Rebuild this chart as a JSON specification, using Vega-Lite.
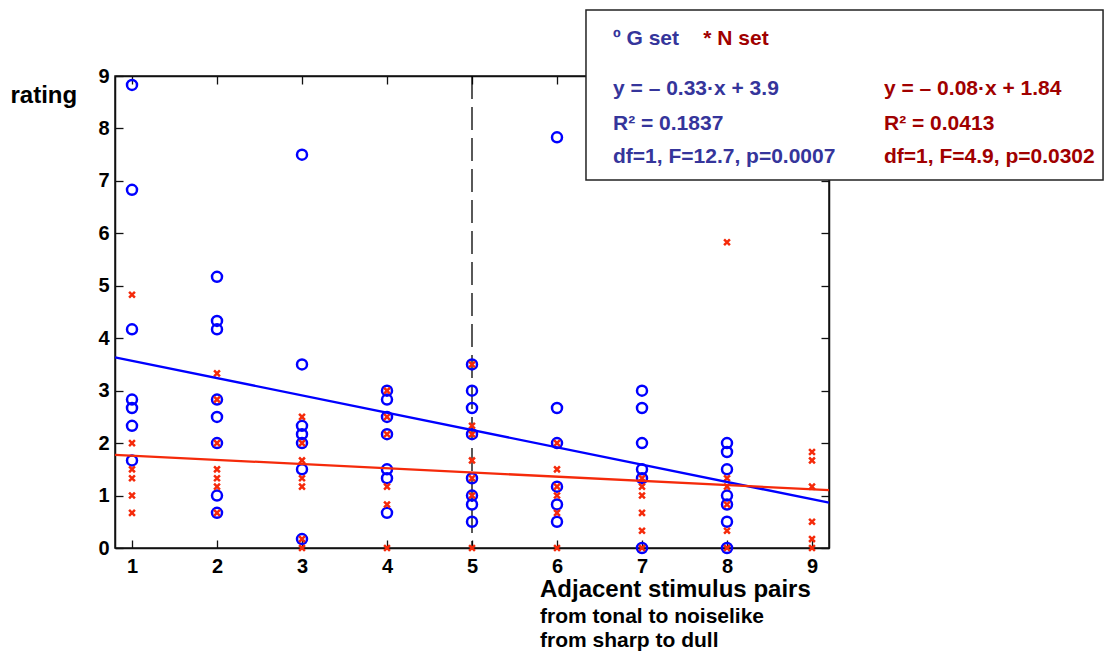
{
  "$schema": "https://vega.github.io/schema/vega-lite/v6.json",
  "width": 714,
  "height": 472,
  "autosize": {"type": "none"},
  "padding": {"left": 115, "top": 76, "right": 276, "bottom": 106},
  "background": "white",
  "config": {
    "view": {"stroke": "#111111", "strokeWidth": 1.5},
    "font": "Liberation Sans",
    "axis": {
      "labelFont": "Liberation Sans",
      "labelFontWeight": "bold",
      "labelFontSize": 20,
      "labelColor": "#000000",
      "domainColor": "#111111",
      "domainWidth": 1.5,
      "tickColor": "#111111",
      "tickWidth": 1.3,
      "grid": false
    }
  },
  "title": {
    "text": "Adjacent stimulus pairs",
    "subtitle": ["from tonal to noiselike", "from sharp to dull"],
    "orient": "bottom",
    "anchor": "start",
    "frame": "group",
    "dx": 425,
    "offset": 2,
    "font": "Liberation Sans",
    "fontSize": 24,
    "fontWeight": "bold",
    "color": "#000000",
    "subtitleFont": "Liberation Sans",
    "subtitleFontSize": 21,
    "subtitleFontWeight": "bold",
    "subtitleColor": "#000000",
    "subtitlePadding": 4,
    "subtitleLineHeight": 24
  },
  "datasets": {
    "pts": [
      {"x": 1, "y": 8.83, "set": "G"}, {"x": 1, "y": 6.83, "set": "G"}, {"x": 1, "y": 4.17, "set": "G"}, {"x": 1, "y": 2.83, "set": "G"}, {"x": 1, "y": 2.67, "set": "G"}, {"x": 1, "y": 2.33, "set": "G"}, {"x": 1, "y": 1.67, "set": "G"},
      {"x": 2, "y": 5.17, "set": "G"}, {"x": 2, "y": 4.33, "set": "G"}, {"x": 2, "y": 4.17, "set": "G"}, {"x": 2, "y": 2.83, "set": "G"}, {"x": 2, "y": 2.5, "set": "G"}, {"x": 2, "y": 2.0, "set": "G"}, {"x": 2, "y": 1.0, "set": "G"}, {"x": 2, "y": 0.67, "set": "G"},
      {"x": 3, "y": 7.5, "set": "G"}, {"x": 3, "y": 3.5, "set": "G"}, {"x": 3, "y": 2.33, "set": "G"}, {"x": 3, "y": 2.17, "set": "G"}, {"x": 3, "y": 2.0, "set": "G"}, {"x": 3, "y": 1.5, "set": "G"}, {"x": 3, "y": 0.17, "set": "G"},
      {"x": 4, "y": 3.0, "set": "G"}, {"x": 4, "y": 2.83, "set": "G"}, {"x": 4, "y": 2.5, "set": "G"}, {"x": 4, "y": 2.17, "set": "G"}, {"x": 4, "y": 1.5, "set": "G"}, {"x": 4, "y": 1.33, "set": "G"}, {"x": 4, "y": 0.67, "set": "G"},
      {"x": 5, "y": 3.5, "set": "G"}, {"x": 5, "y": 3.0, "set": "G"}, {"x": 5, "y": 2.67, "set": "G"}, {"x": 5, "y": 2.17, "set": "G"}, {"x": 5, "y": 1.33, "set": "G"}, {"x": 5, "y": 1.0, "set": "G"}, {"x": 5, "y": 0.83, "set": "G"}, {"x": 5, "y": 0.5, "set": "G"},
      {"x": 6, "y": 7.83, "set": "G"}, {"x": 6, "y": 2.67, "set": "G"}, {"x": 6, "y": 2.0, "set": "G"}, {"x": 6, "y": 1.17, "set": "G"}, {"x": 6, "y": 0.83, "set": "G"}, {"x": 6, "y": 0.5, "set": "G"},
      {"x": 7, "y": 3.0, "set": "G"}, {"x": 7, "y": 2.67, "set": "G"}, {"x": 7, "y": 2.0, "set": "G"}, {"x": 7, "y": 1.5, "set": "G"}, {"x": 7, "y": 1.33, "set": "G"}, {"x": 7, "y": 0.0, "set": "G"},
      {"x": 8, "y": 2.0, "set": "G"}, {"x": 8, "y": 1.83, "set": "G"}, {"x": 8, "y": 1.5, "set": "G"}, {"x": 8, "y": 1.0, "set": "G"}, {"x": 8, "y": 0.83, "set": "G"}, {"x": 8, "y": 0.5, "set": "G"}, {"x": 8, "y": 0.0, "set": "G"},
      {"x": 1, "y": 4.83, "set": "N"}, {"x": 1, "y": 2.0, "set": "N"}, {"x": 1, "y": 1.5, "set": "N"}, {"x": 1, "y": 1.33, "set": "N"}, {"x": 1, "y": 1.0, "set": "N"}, {"x": 1, "y": 0.67, "set": "N"},
      {"x": 2, "y": 3.33, "set": "N"}, {"x": 2, "y": 2.83, "set": "N"}, {"x": 2, "y": 2.0, "set": "N"}, {"x": 2, "y": 1.5, "set": "N"}, {"x": 2, "y": 1.33, "set": "N"}, {"x": 2, "y": 1.17, "set": "N"}, {"x": 2, "y": 0.67, "set": "N"},
      {"x": 3, "y": 2.5, "set": "N"}, {"x": 3, "y": 2.0, "set": "N"}, {"x": 3, "y": 1.67, "set": "N"}, {"x": 3, "y": 1.33, "set": "N"}, {"x": 3, "y": 1.17, "set": "N"}, {"x": 3, "y": 0.17, "set": "N"}, {"x": 3, "y": 0.0, "set": "N"},
      {"x": 4, "y": 3.0, "set": "N"}, {"x": 4, "y": 2.5, "set": "N"}, {"x": 4, "y": 2.17, "set": "N"}, {"x": 4, "y": 1.17, "set": "N"}, {"x": 4, "y": 0.83, "set": "N"}, {"x": 4, "y": 0.0, "set": "N"},
      {"x": 5, "y": 3.5, "set": "N"}, {"x": 5, "y": 2.33, "set": "N"}, {"x": 5, "y": 2.17, "set": "N"}, {"x": 5, "y": 1.67, "set": "N"}, {"x": 5, "y": 1.33, "set": "N"}, {"x": 5, "y": 1.0, "set": "N"}, {"x": 5, "y": 0.0, "set": "N"},
      {"x": 6, "y": 2.0, "set": "N"}, {"x": 6, "y": 1.5, "set": "N"}, {"x": 6, "y": 1.17, "set": "N"}, {"x": 6, "y": 1.0, "set": "N"}, {"x": 6, "y": 0.67, "set": "N"}, {"x": 6, "y": 0.0, "set": "N"},
      {"x": 7, "y": 1.33, "set": "N"}, {"x": 7, "y": 1.17, "set": "N"}, {"x": 7, "y": 1.0, "set": "N"}, {"x": 7, "y": 0.67, "set": "N"}, {"x": 7, "y": 0.33, "set": "N"}, {"x": 7, "y": 0.0, "set": "N"},
      {"x": 8, "y": 5.83, "set": "N"}, {"x": 8, "y": 1.33, "set": "N"}, {"x": 8, "y": 1.17, "set": "N"}, {"x": 8, "y": 0.83, "set": "N"}, {"x": 8, "y": 0.33, "set": "N"}, {"x": 8, "y": 0.0, "set": "N"},
      {"x": 9, "y": 1.83, "set": "N"}, {"x": 9, "y": 1.67, "set": "N"}, {"x": 9, "y": 1.17, "set": "N"}, {"x": 9, "y": 0.5, "set": "N"}, {"x": 9, "y": 0.17, "set": "N"}, {"x": 9, "y": 0.0, "set": "N"}
    ],
    "fits": [
      {"x": 0.8, "y": 3.636, "set": "G"}, {"x": 9.2, "y": 0.864, "set": "G"},
      {"x": 0.8, "y": 1.776, "set": "N"}, {"x": 9.2, "y": 1.104, "set": "N"}
    ],
    "split": [{"x": 5}],
    "box": [{"x": 6.341, "x2": 12.424, "y": 10.259, "y2": 7.018}],
    "notes": [
      {"tx": 6.659, "ty": 9.592, "label": "º G set", "set": "G"},
      {"tx": 6.659, "ty": 8.638, "label": "y = – 0.33·x + 3.9", "set": "G"},
      {"tx": 6.659, "ty": 7.971, "label": "R² = 0.1837", "set": "G"},
      {"tx": 6.659, "ty": 7.342, "label": "df=1, F=12.7, p=0.0007", "set": "G"},
      {"tx": 7.721, "ty": 9.592, "label": "* N set", "set": "N"},
      {"tx": 9.847, "ty": 8.638, "label": "y = – 0.08·x + 1.84", "set": "N"},
      {"tx": 9.847, "ty": 7.971, "label": "R² = 0.0413", "set": "N"},
      {"tx": 9.847, "ty": 7.342, "label": "df=1, F=4.9, p=0.0302", "set": "N"}
    ]
  },
  "layer": [
    {
      "data": {"name": "split"},
      "mark": {"type": "rule", "color": "#000000", "strokeWidth": 1.3, "strokeDash": [23, 8]},
      "encoding": {
        "x": {"field": "x", "type": "quantitative", "scale": {"domain": [0.8, 9.2], "nice": false, "zero": false}, "axis": null}
      }
    },
    {
      "data": {"name": "pts"},
      "mark": {"type": "point", "filled": false, "strokeWidth": 2.5, "opacity": 1},
      "encoding": {
        "x": {"field": "x", "type": "quantitative", "scale": {"domain": [0.8, 9.2], "nice": false, "zero": false},
              "axis": {"orient": "bottom", "values": [1, 2, 3, 4, 5, 6, 7, 8, 9], "tickSize": -8, "labelPadding": 16, "title": null}},
        "y": {"field": "y", "type": "quantitative", "scale": {"domain": [0, 9], "nice": false},
              "axis": {"orient": "left", "values": [0, 1, 2, 3, 4, 5, 6, 7, 8, 9], "tickSize": -8, "labelPadding": 14,
                       "title": "rating", "titleAngle": 0, "titleAlign": "left", "titleBaseline": "alphabetic",
                       "titleX": -105, "titleY": 26, "titleFont": "Liberation Sans", "titleFontSize": 24, "titleFontWeight": "bold", "titleColor": "#000000"}},
        "color": {"field": "set", "type": "nominal", "scale": {"domain": ["G", "N"], "range": ["#0000ff", "#f52a0a"]}, "legend": null},
        "shape": {"field": "set", "type": "nominal", "scale": {"domain": ["G", "N"], "range": ["circle", "M-1,-1L1,1M-1,1L1,-1"]}, "legend": null},
        "size": {"field": "set", "type": "nominal", "scale": {"domain": ["G", "N"], "range": [100, 34]}, "legend": null}
      }
    },
    {
      "data": {"name": "fits"},
      "mark": {"type": "line", "strokeWidth": 2.3},
      "encoding": {
        "x": {"field": "x", "type": "quantitative", "scale": {"domain": [0.8, 9.2], "nice": false, "zero": false},
              "axis": {"orient": "top", "values": [1, 2, 3, 4, 5, 6, 7, 8, 9], "tickSize": -8, "labels": false, "title": null}},
        "y": {"field": "y", "type": "quantitative", "scale": {"domain": [0, 9], "nice": false},
              "axis": {"orient": "right", "values": [0, 1, 2, 3, 4, 5, 6, 7, 8, 9], "tickSize": -8, "labels": false, "title": null}},
        "color": {"field": "set", "type": "nominal", "legend": null}
      }
    },
    {
      "data": {"name": "box"},
      "mark": {"type": "rect", "fill": "#ffffff", "stroke": "#222222", "strokeWidth": 1.5},
      "encoding": {
        "x": {"field": "x", "type": "quantitative", "axis": null},
        "x2": {"field": "x2"},
        "y": {"field": "y", "type": "quantitative", "axis": null},
        "y2": {"field": "y2"}
      }
    },
    {
      "data": {"name": "notes"},
      "transform": [{"filter": "datum.set === 'G'"}],
      "mark": {"type": "text", "align": "left", "baseline": "alphabetic", "font": "Liberation Sans", "fontWeight": "bold", "fontSize": 21, "color": "#35359b"},
      "encoding": {
        "x": {"field": "tx", "type": "quantitative", "axis": null},
        "y": {"field": "ty", "type": "quantitative", "axis": null},
        "text": {"field": "label"}
      }
    },
    {
      "data": {"name": "notes"},
      "transform": [{"filter": "datum.set === 'N'"}],
      "mark": {"type": "text", "align": "left", "baseline": "alphabetic", "font": "Liberation Sans", "fontWeight": "bold", "fontSize": 21, "color": "#a00000"},
      "encoding": {
        "x": {"field": "tx", "type": "quantitative", "axis": null},
        "y": {"field": "ty", "type": "quantitative", "axis": null},
        "text": {"field": "label"}
      }
    }
  ]
}
